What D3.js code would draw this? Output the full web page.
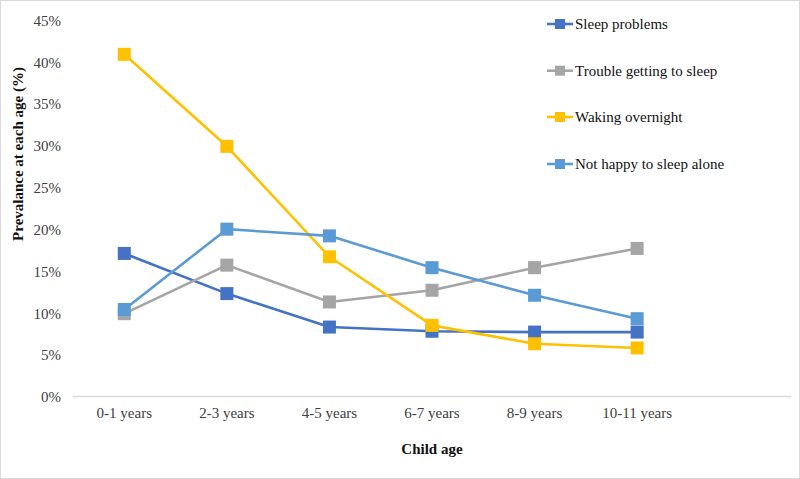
<!DOCTYPE html>
<html><head><meta charset="utf-8">
<script src="https://cdn.jsdelivr.net/npm/d3@7"></script>
<style>body{margin:0;background:#fff}svg{display:block}</style>
</head><body>
<svg id="c" width="800" height="479"></svg>
<script>
const categories = ["0-1 years","2-3 years","4-5 years","6-7 years","8-9 years","10-11 years"];
const seriesNames = ["Sleep problems","Trouble getting to sleep","Waking overnight","Not happy to sleep alone"];
const sleepProblems = [17.1, 12.3, 8.3, 7.8, 7.7, 7.7];
const troubleGetting = [9.9, 15.7, 11.3, 12.7, 15.4, 17.7];
const wakingOvernight = [40.9, 29.9, 16.7, 8.5, 6.3, 5.8];
const notHappyAlone = [10.4, 20.0, 19.2, 15.4, 12.1, 9.3];
const yTicks = [0,5,10,15,20,25,30,35,40,45];
const colors = ["#4472C4","#A5A5A5","#FFC000","#5B9BD5"];

(function(){
const seriesValues = [sleepProblems, troubleGetting, wakingOvernight, notHappyAlone];
const svg = d3.select("#c");
const font = "'Liberation Serif','Times New Roman',serif";

svg.append("rect").attr("x",0.5).attr("y",0.5).attr("width",799).attr("height",478)
  .attr("fill","#fff").attr("stroke","#d9d9d9");

const pLeft = 73, pRight = 791, pTop = 20, pBottom = 396.5;
const bw = (pRight-pLeft)/7;
const x = d3.scaleBand().domain(categories).range([pLeft, pLeft + bw*6]).padding(0);
const y = d3.scaleLinear().domain([0,45]).range([pBottom, pTop]);

svg.append("line").attr("x1",pLeft).attr("x2",pRight).attr("y1",pBottom).attr("y2",pBottom)
  .attr("stroke","#d9d9d9").attr("stroke-width",1.3);

const yAxis = d3.axisLeft(y).tickValues(yTicks).tickFormat(d=>d+"%").tickSize(0).tickPadding(0);
const gy = svg.append("g").attr("transform",`translate(61,0)`).call(yAxis);
gy.select(".domain").remove();
gy.selectAll("text").attr("font-family",font).attr("font-size",15).attr("fill","#404040").attr("dy","0.35em");

const xAxis = d3.axisBottom(x).tickSize(0).tickPadding(0);
const gx = svg.append("g").attr("transform",`translate(0,${pBottom+11})`).call(xAxis);
gx.select(".domain").remove();
gx.selectAll("text").attr("font-family",font).attr("font-size",15).attr("fill","#404040").attr("dy","0.71em");

svg.append("text").attr("x",(pLeft+pRight)/2).attr("y",454).attr("text-anchor","middle")
  .attr("font-family",font).attr("font-size",15).attr("font-weight","bold").attr("fill","#111").text("Child age");
svg.append("text").attr("transform","translate(23,154) rotate(-90)").attr("text-anchor","middle")
  .attr("font-family",font).attr("font-size",15).attr("font-weight","bold").attr("fill","#111").text("Prevalance at each age (%)");

const cx = c => x(c) + x.bandwidth()/2;
const line = d3.line().x((d,i)=>cx(categories[i])).y(d=>y(d));
const ms = 13;
seriesValues.forEach((vals,si)=>{
  const g = svg.append("g");
  g.append("path").datum(vals).attr("d",line).attr("fill","none")
    .attr("stroke",colors[si]).attr("stroke-width",2.6).attr("stroke-linejoin","round");
  g.selectAll("rect").data(vals).join("rect")
    .attr("x",(d,i)=>cx(categories[i])-ms/2).attr("y",d=>y(d)-ms/2)
    .attr("width",ms).attr("height",ms).attr("fill",colors[si]);
});

const legY = [24, 70.7, 117, 164];
seriesNames.forEach((n,i)=>{
  const g = svg.append("g").attr("transform",`translate(0,${legY[i]})`);
  g.append("line").attr("x1",547).attr("x2",573).attr("y1",0).attr("y2",0)
    .attr("stroke",colors[i]).attr("stroke-width",2.6);
  g.append("rect").attr("x",555).attr("y",-5).attr("width",10).attr("height",10).attr("fill",colors[i]);
  g.append("text").attr("x",575).attr("y",0).attr("dy","0.35em")
    .attr("font-family",font).attr("font-size",15).attr("fill","#111").text(n);
});
})();
</script>
</body></html>
